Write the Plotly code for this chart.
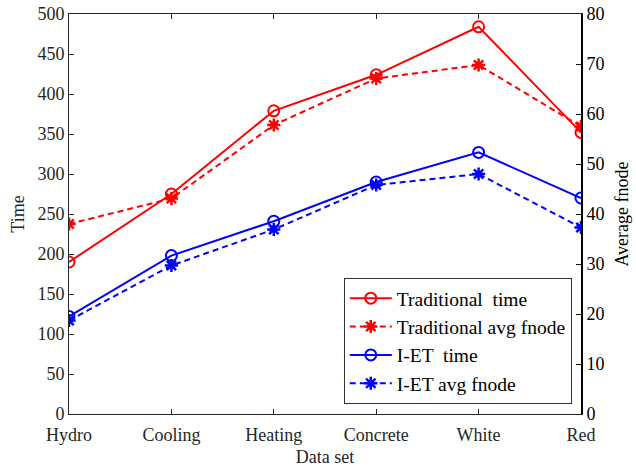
import plotly.graph_objects as go

categories = ["Hydro", "Cooling", "Heating", "Concrete", "White", "Red"]
trad_time = [190, 275, 379, 424, 484, 352]
trad_fnode = [38.0, 43.1, 57.8, 67.1, 69.8, 57.5]
iet_time = [122, 198, 241, 290, 327, 270]
iet_fnode = [18.7, 29.7, 36.9, 45.8, 48.0, 37.3]

x = list(range(len(categories)))
FONT = "Liberation Serif, Times New Roman, serif"

fig = go.Figure()
fig.add_trace(go.Scatter(x=x, y=trad_time, name="Traditional  time", mode="lines+markers",
                         line=dict(color="#ff0000", width=2),
                         marker=dict(symbol="circle-open", size=11, line=dict(width=2, color="#ff0000"))))
fig.add_trace(go.Scatter(x=x, y=trad_fnode, name="Traditional avg fnode", mode="lines+markers", yaxis="y2",
                         line=dict(color="#ff0000", width=2, dash="6px,4px"),
                         marker=dict(symbol="asterisk-open", size=11, line=dict(width=2.5, color="#ff0000"))))
fig.add_trace(go.Scatter(x=x, y=iet_time, name="I-ET  time", mode="lines+markers",
                         line=dict(color="#0000ff", width=2),
                         marker=dict(symbol="circle-open", size=11, line=dict(width=2, color="#0000ff"))))
fig.add_trace(go.Scatter(x=x, y=iet_fnode, name="I-ET avg fnode", mode="lines+markers", yaxis="y2",
                         line=dict(color="#0000ff", width=2, dash="6px,4px"),
                         marker=dict(symbol="asterisk-open", size=11, line=dict(width=2.5, color="#0000ff"))))

fig.update_layout(
    width=636, height=471,
    margin=dict(l=69, r=55, t=14, b=57),
    paper_bgcolor="white", plot_bgcolor="white",
    font=dict(family=FONT, size=18, color="#262626"),
    showlegend=True,
    legend=dict(x=0.982, y=0.025, xanchor="right", yanchor="bottom",
                bgcolor="white", bordercolor="#333333", borderwidth=1,
                font=dict(family=FONT, size=19.5, color="#000000"),
                itemwidth=42, tracegroupgap=0),
    xaxis=dict(range=[0, 5], tickmode="array", tickvals=x, ticktext=categories,
               ticks="inside", ticklen=5, tickcolor="#262626", ticklabelstandoff=4,
               showline=True, linecolor="#262626", linewidth=1, mirror="ticks",
               showgrid=False, zeroline=False, automargin=False,
               title=dict(text="Data set", standoff=6, font=dict(size=18))),
    yaxis=dict(range=[0, 500], dtick=50, ticks="inside", ticklen=5, tickcolor="#262626",
               showline=True, linecolor="#262626", linewidth=1,
               showgrid=False, zeroline=False, automargin=False,
               title=dict(text="Time", standoff=8, font=dict(size=18))),
    yaxis2=dict(range=[0, 80], dtick=10, overlaying="y", side="right",
                ticks="inside", ticklen=5, tickcolor="#000000",
                showline=True, linecolor="#000000", linewidth=2,
                showgrid=False, zeroline=False, automargin=False,
                tickfont=dict(color="#000000"),
                title=dict(text="Average fnode", standoff=12, font=dict(size=18, color="#000000"))),
)

fig.write_html("out.html")
